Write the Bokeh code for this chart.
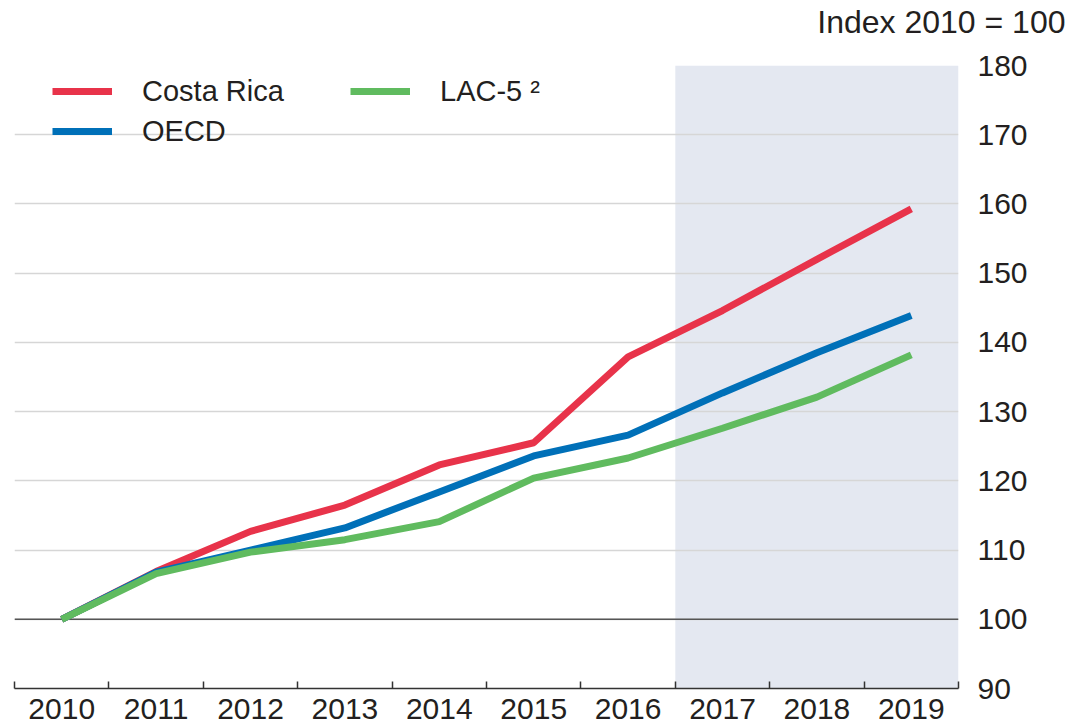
from bokeh.plotting import figure
from bokeh.models import Range1d, FixedTicker, BoxAnnotation, Span, Legend, LegendItem, Title
from bokeh.embed import file_html
from bokeh.resources import INLINE

years = [2010, 2011, 2012, 2013, 2014, 2015, 2016, 2017, 2018, 2019]
costa_rica = [100, 106.9, 112.7, 116.5, 122.3, 125.5, 137.9, 144.6, 152.0, 159.3]
oecd = [100, 106.8, 110.0, 113.2, 118.4, 123.6, 126.6, 132.7, 138.5, 143.9]
lac5 = [100, 106.6, 109.7, 111.5, 114.1, 120.4, 123.3, 127.6, 132.1, 138.2]
y_ticks = [90, 100, 110, 120, 130, 140, 150, 160, 170, 180]
projection_start = 2016.5
unit_label = "Index 2010 = 100"

FONT = "Liberation Sans"
TXT = "#231F20"

p = figure(width=1068, height=727, output_backend="svg", toolbar_location=None,
           x_range=Range1d(years[0] - 0.5, years[-1] + 0.5),
           y_range=Range1d(y_ticks[0], y_ticks[-1]),
           y_axis_location="right",
           min_border_left=14, min_border_right=110, min_border_top=65, min_border_bottom=39)
p.outline_line_color = None

shade = BoxAnnotation(left=projection_start, right=years[-1] + 0.5,
                      fill_color="#E4E8F1", fill_alpha=1, line_color=None, level="image")
p.add_layout(shade)

p.xgrid.visible = False
p.ygrid.ticker = FixedTicker(ticks=y_ticks[1:])
p.ygrid.grid_line_color = "#D6D6D6"
p.ygrid.grid_line_width = 1.5

base = Span(location=100, dimension="width", line_color="#555555", line_width=1.5, level="underlay")
p.add_layout(base)

xa = p.xaxis[0]
xa.ticker = FixedTicker(ticks=years, minor_ticks=[y - 0.5 for y in years] + [years[-1] + 0.5])
xa.major_tick_in = 0
xa.major_tick_out = 0
xa.minor_tick_in = 7
xa.minor_tick_out = 0
xa.minor_tick_line_color = "#333333"
xa.minor_tick_line_width = 1.5
xa.axis_line_color = "#333333"
xa.axis_line_width = 1.5
xa.major_label_text_font = FONT
xa.major_label_text_font_size = "30px"
xa.major_label_text_color = TXT
xa.major_label_standoff = 10

ya = p.yaxis[0]
ya.ticker = FixedTicker(ticks=y_ticks)
ya.axis_line_color = None
ya.major_tick_line_color = None
ya.minor_tick_line_color = None
ya.major_label_standoff = 13
ya.major_label_text_font = FONT
ya.major_label_text_font_size = "30px"
ya.major_label_text_color = TXT

r1 = p.line(years, costa_rica, line_color="#E8334A", line_width=7)
r2 = p.line(years, oecd, line_color="#0070B8", line_width=7)
r3 = p.line(years, lac5, line_color="#60BB5F", line_width=7)

legend = Legend(items=[LegendItem(label="Costa Rica", renderers=[r1]),
                       LegendItem(label="OECD", renderers=[r2]),
                       LegendItem(label="LAC-5 ²", renderers=[r3])],
                ncols=2, location=(38, 537),
                glyph_width=60, glyph_height=40, label_height=40, label_standoff=30,
                label_width=208, spacing=0, padding=0, margin=0,
                border_line_color=None, background_fill_alpha=0,
                label_text_font=FONT, label_text_font_size="29px", label_text_color=TXT)
p.add_layout(legend)

# spacer between frame and the unit label
spacer = Title(text=" ", text_font_size="1px", standoff=23)
p.add_layout(spacer, "above")

title = Title(text=unit_label, align="right", offset=-107, standoff=0,
              text_font=FONT, text_font_size="32px", text_font_style="normal",
              text_color=TXT)
p.add_layout(title, "above")

open("out.html", "w").write(file_html(p, INLINE))
